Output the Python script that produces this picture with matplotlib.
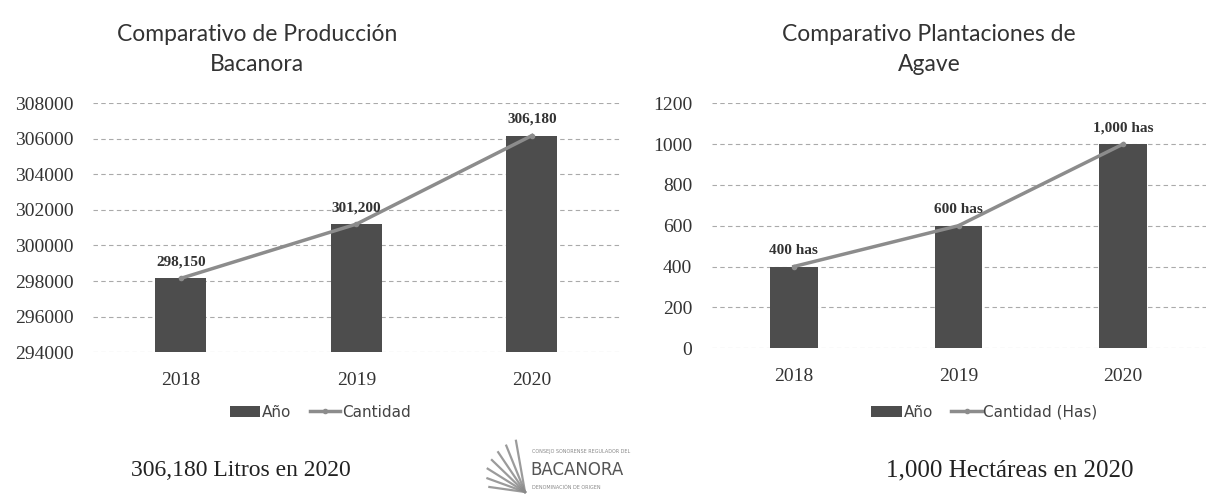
import matplotlib.pyplot as plt
from matplotlib.lines import Line2D
import numpy as np

# Datos
anios = ['2018', '2019', '2020']
litros = [298150, 301200, 306180]
litros_etiquetas = ['298,150', '301,200', '306,180']
hectareas = [400, 600, 1000]
hectareas_etiquetas = ['400 has', '600 has', '1,000 has']

color_barra = '#4d4d4d'
color_linea = '#8c8c8c'
fuente_serif = 'Liberation Serif'
fuente_titulo = 'Lato'

fig = plt.figure(figsize=(12.08, 4.96), dpi=100)
ax1 = fig.add_axes([0.077, 0.290, 0.436, 0.502])
ax2 = fig.add_axes([0.589, 0.298, 0.409, 0.494])


def dibujar(ax, valores, etiquetas, ylim, yticks, nombre_linea, legend_x):
    x = np.arange(len(anios))
    base = ylim[0]
    barras = ax.bar(x, np.array(valores) - base, width=0.29, bottom=base,
                    color=color_barra, zorder=2)
    linea, = ax.plot(x, valores, color=color_linea, lw=2.5, marker='o', markersize=3,
                     zorder=3)
    for xi, v, t in zip(x, valores, etiquetas):
        ax.annotate(t, (xi, v), xytext=(0, 7), textcoords='offset points',
                    ha='center', va='bottom', fontsize=11, fontweight='bold',
                    family=fuente_serif, color='#333333')
    ax.set_xlim(-0.5, 2.5)
    ax.set_ylim(*ylim)
    ax.set_yticks(yticks)
    ax.set_xticks(x)
    ax.set_xticklabels(anios)
    ax.grid(axis='y', color='#aaaaaa', linestyle=(0, (4, 3)), linewidth=0.8, zorder=0)
    for s in ax.spines.values():
        s.set_visible(False)
    ax.tick_params(length=0, labelsize=14, colors='#333333')
    ax.tick_params(axis='x', pad=14)
    ax.tick_params(axis='y', pad=14)
    for lab in ax.get_xticklabels() + ax.get_yticklabels():
        lab.set_family(fuente_serif)
    fig.legend([barras, linea], ['Año', nombre_linea], loc='center',
               bbox_to_anchor=(legend_x, 0.169), ncol=2, frameon=False,
               handlelength=2, handletextpad=0.1, columnspacing=1.2,
               labelcolor='#444444', prop={'family': 'DejaVu Sans', 'size': 11})


dibujar(ax1, litros, litros_etiquetas, (294000, 308000),
        np.arange(294000, 308001, 2000), 'Cantidad', 0.265)
dibujar(ax2, hectareas, hectareas_etiquetas, (0, 1200),
        np.arange(0, 1201, 200), 'Cantidad (Has)', 0.815)

# Títulos
fig.text(0.213, 0.90, 'Comparativo de Producción\nBacanora', fontsize=16.5,
         family=fuente_titulo, ha='center', va='center', color='#333333',
         linespacing=1.55)
fig.text(0.769, 0.90, 'Comparativo Plantaciones de\nAgave', fontsize=16.5,
         family=fuente_titulo, ha='center', va='center', color='#333333',
         linespacing=1.55)

# Textos inferiores
fig.text(0.199, 0.052, '306,180 Litros en 2020', fontsize=17, family=fuente_serif,
         ha='center', va='center', color='#222222')
fig.text(0.836, 0.052, '1,000 Hectáreas en 2020', fontsize=18, family=fuente_serif,
         ha='center', va='center', color='#222222')

# Logo (abanico de hojas + texto)
ox, oy = 525 / 1208, 1 - 492 / 496
for ang, largo in zip([100, 112, 124, 136, 148, 160, 172], [52, 50, 48, 46, 44, 40, 36]):
    a = np.deg2rad(ang)
    fig.add_artist(Line2D([ox, ox + largo * np.cos(a) / 1208],
                          [oy, oy + largo * np.sin(a) / 496],
                          color='#8a8a8a', lw=1.6, alpha=0.85))
fig.text(530 / 1208, 0.052, 'BACANORA', fontsize=12, family='DejaVu Sans',
         ha='left', va='center', color='#555555')
fig.text(532 / 1208, 0.090, 'CONSEJO SONORENSE REGULADOR DEL', fontsize=3.5,
         family='DejaVu Sans', ha='left', va='center', color='#888888')
fig.text(532 / 1208, 0.018, 'DENOMINACIÓN DE ORIGEN', fontsize=3.5,
         family='DejaVu Sans', ha='left', va='center', color='#888888')

fig.savefig('out.png', dpi=100)
